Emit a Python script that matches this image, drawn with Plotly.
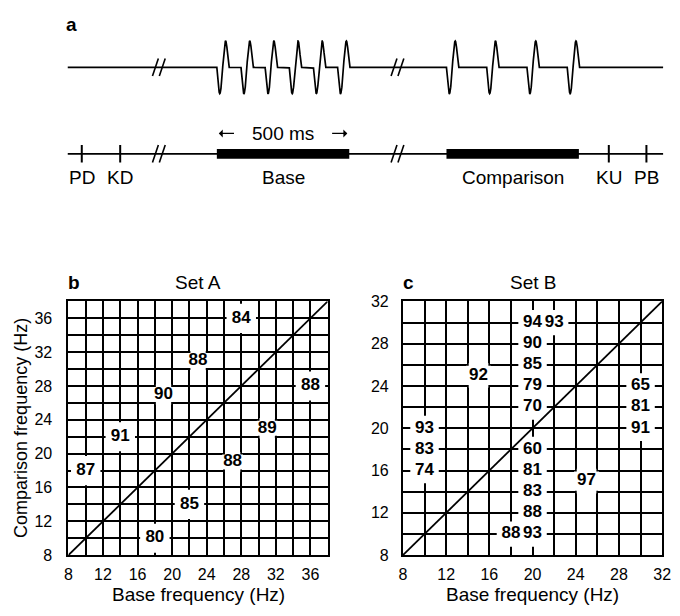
import numpy as np
import plotly.graph_objects as go

W, H = 680, 616
FONT = "Liberation Sans, Arial, Helvetica, sans-serif"

# ---------------- panel a: trial sequence (schematic time, ms from base onset) ----------------
stim_dur_ms = 500
base_onset_ms = 0
comp_onset_ms = 867
pulses_base = 6
pulses_comp = 4
pulse_width_ms = 44
line_start_ms, line_end_ms = -563, 1685
event_names = ["PD", "KD", "KU", "PB"]
event_ms = [-510, -365, 1480, 1622]
break_ms = [-219, 682]
stim_names = ["Base", "Comparison"]

# ---------------- panels b, c: stimulus pairs and percent correct ----------------
set_a_base = [28, 23, 19, 36, 14, 10, 31, 27, 22, 18]
set_a_comp = [36, 31, 27, 28, 22, 18, 23, 19, 14, 10]
set_a_pct = [84, 88, 90, 88, 91, 87, 89, 88, 85, 80]

set_b_base = [20, 22, 20, 20, 20, 20, 20, 20, 20, 20, 20, 18, 10, 10, 10, 30, 30, 30, 15, 25]
set_b_comp = [30, 30, 28, 26, 24, 22, 18, 16, 14, 12, 10, 10, 20, 18, 16, 24, 22, 20, 25, 15]
set_b_pct = [94, 93, 90, 85, 79, 70, 60, 81, 83, 88, 93, 88, 93, 83, 74, 65, 81, 91, 92, 97]

set_a_range = [8, 38]
set_b_range = [8, 32]
tick_step, grid_step = 4, 2

# ---------------- page geometry (pixels) ----------------
PB = dict(x0=65.7, x1=330.0, y0=301.7, y1=562.7)
PC = dict(x0=406.7, x1=671.0, y0=301.7, y1=562.7)
A_H = 210            # height of the schematic strip
MS_PX = 0.27         # px per ms in the schematic
A_X0 = 217           # px of base onset
WAVE_Y, WAVE_AMP = 61, 27
LINE_Y, BAR_HALF, TICK_HALF = 150, 5, 9
LABEL_Y, DUR_Y = 174, 129


def xdom(p):
    return [p["x0"] / W, p["x1"] / W]


def ydom(p):
    return [1 - p["y1"] / H, 1 - p["y0"] / H]


fig = go.Figure()

# ---------- panel a ----------
t = np.arange(line_start_ms, line_end_ms + 0.25, 0.25)
wave = np.zeros_like(t)
for onset, n in [(base_onset_ms, pulses_base), (comp_onset_ms, pulses_comp)]:
    period = (stim_dur_ms - pulse_width_ms) / (n - 1)
    for k in range(n):
        s = onset + k * period
        m = (t >= s) & (t <= s + pulse_width_ms)
        wave[m] = np.sin(2 * np.pi * (t[m] - s) / pulse_width_ms)
fig.add_trace(go.Scatter(x=t, y=WAVE_Y + WAVE_AMP * wave, mode="lines",
                         line=dict(color="black", width=1.7),
                         xaxis="x3", yaxis="y3", hoverinfo="skip"))
fig.add_trace(go.Scatter(x=[line_start_ms, line_end_ms], y=[LINE_Y, LINE_Y], mode="lines",
                         line=dict(color="black", width=1.7),
                         xaxis="x3", yaxis="y3", hoverinfo="skip"))

shapes = []
ms = 1 / MS_PX
for b in break_ms:
    for yline in (WAVE_Y, LINE_Y):
        for off in (-3.5, 3.5):
            shapes.append(dict(type="line", xref="x3", yref="y3",
                               x0=b + (off - 3) * ms, x1=b + (off + 3) * ms,
                               y0=yline + 9, y1=yline - 9,
                               line=dict(color="black", width=1.6)))
for e in event_ms:
    shapes.append(dict(type="line", xref="x3", yref="y3", x0=e, x1=e,
                       y0=LINE_Y - TICK_HALF, y1=LINE_Y + TICK_HALF,
                       line=dict(color="black", width=2)))
for onset in (base_onset_ms, comp_onset_ms):
    shapes.append(dict(type="rect", xref="x3", yref="y3", x0=onset, x1=onset + stim_dur_ms,
                       y0=LINE_Y - BAR_HALF, y1=LINE_Y + BAR_HALF,
                       fillcolor="black", line=dict(width=0)))

annotations = []
txt_font = dict(size=19, family=FONT, color="black")
for name, e in zip(event_names, event_ms):
    annotations.append(dict(xref="x3", yref="y3", x=e, y=LABEL_Y, text=name,
                            showarrow=False, font=txt_font))
for name, onset in zip(stim_names, (base_onset_ms, comp_onset_ms)):
    annotations.append(dict(xref="x3", yref="y3", x=onset + stim_dur_ms / 2, y=LABEL_Y, text=name,
                            showarrow=False, font=txt_font))
annotations.append(dict(xref="x3", yref="y3", x=base_onset_ms + stim_dur_ms / 2, y=DUR_Y,
                        text=f"{stim_dur_ms} ms", showarrow=False, font=txt_font))
# duration arrows pointing at the two ends of the base stimulus
for tip, tail in [(base_onset_ms + 2 * ms, base_onset_ms + 19 * ms),
                  (base_onset_ms + stim_dur_ms - 2 * ms, base_onset_ms + stim_dur_ms - 19 * ms)]:
    annotations.append(dict(xref="x3", yref="y3", x=tip, y=DUR_Y, axref="x3", ayref="y3",
                            ax=tail, ay=DUR_Y, text="", showarrow=True, arrowhead=1,
                            arrowsize=1.1, arrowwidth=1.2, arrowcolor="black"))


# ---------- panels b and c ----------
def grid_panel(base, comp, pct, rng, p, xref, yref, hw, hh):
    sx = (rng[1] - rng[0]) / (p["x1"] - p["x0"])
    sy = (rng[1] - rng[0]) / (p["y1"] - p["y0"])
    for x, y in zip(base, comp):
        if x % 2 == 1:
            # label sits inside a cell: open that cell's four edges, keep its corners
            ex, ey, dx, dy = 1.0 * sx, 1.0 * sy, 1.8 * sx, 1.8 * sy
            shapes.append(dict(type="rect", xref=xref, yref=yref, layer="between",
                               x0=x - 1 - dx, x1=x + 1 + dx, y0=y - 1 + ey, y1=y + 1 - ey,
                               fillcolor="white", line=dict(width=0)))
            shapes.append(dict(type="rect", xref=xref, yref=yref, layer="between",
                               x0=x - 1 + ex, x1=x + 1 - ex, y0=y - 1 - dy, y1=y + 1 + dy,
                               fillcolor="white", line=dict(width=0)))
        else:
            shapes.append(dict(type="rect", xref=xref, yref=yref, layer="between",
                               x0=x - hw * sx, x1=x + hw * sx, y0=y - hh * sy, y1=y + hh * sy,
                               fillcolor="white", line=dict(width=0)))
    fig.add_trace(go.Scatter(x=rng, y=rng, mode="lines", line=dict(color="black", width=1.8),
                             xaxis=xref, yaxis=yref, hoverinfo="skip"))
    fig.add_trace(go.Scatter(x=base, y=comp, mode="text", text=[str(v) for v in pct],
                             textposition="middle center",
                             textfont=dict(size=17, family=FONT, color="black", weight="bold"),
                             xaxis=xref, yaxis=yref, hoverinfo="skip"))


grid_panel(set_a_base, set_a_comp, set_a_pct, set_a_range, PB, "x", "y", 15, 15)
grid_panel(set_b_base, set_b_comp, set_b_pct, set_b_range, PC, "x2", "y2", 14.5, 13)


def grid_axis(rng, dom, standoff, anchor):
    return dict(domain=dom, range=rng, tick0=rng[0], dtick=tick_step, anchor=anchor,
                showgrid=True, gridcolor="black", gridwidth=1.6,
                minor=dict(dtick=grid_step, tick0=rng[0], showgrid=True,
                           gridcolor="black", gridwidth=1.6),
                showline=True, mirror=True, linecolor="black", linewidth=2,
                ticks="", zeroline=False, ticklabelstandoff=standoff,
                tickfont=dict(size=16, family=FONT, color="black"), fixedrange=True)


def paper_text(x, y, text, size=19, bold=False, angle=0):
    annotations.append(dict(xref="paper", yref="paper", x=x / W, y=1 - y / H,
                            text=f"<b>{text}</b>" if bold else text, textangle=angle,
                            showarrow=False, xanchor="center", yanchor="middle",
                            font=dict(size=size, family=FONT, color="black")))


paper_text(69, 17, "a", bold=True)
paper_text(71, 282, "b", bold=True)
paper_text(412, 282, "c", bold=True)
paper_text((PB["x0"] + PB["x1"]) / 2, 282, "Set A")
paper_text((PC["x0"] + PC["x1"]) / 2, 282, "Set B")
paper_text((PB["x0"] + PB["x1"]) / 2, 603, "Base frequency (Hz)")
paper_text((PC["x0"] + PC["x1"]) / 2, 603, "Base frequency (Hz)")
paper_text(18, (PB["y0"] + PB["y1"]) / 2, "Comparison frequency (Hz)", size=18, angle=-90)

fig.update_layout(
    width=W, height=H, margin=dict(l=0, r=0, t=0, b=0),
    paper_bgcolor="white", plot_bgcolor="white", showlegend=False,
    xaxis=grid_axis(set_a_range, xdom(PB), 4, "y"),
    yaxis=grid_axis(set_a_range, ydom(PB), 11, "x"),
    xaxis2=grid_axis(set_b_range, xdom(PC), 4, "y2"),
    yaxis2=grid_axis(set_b_range, ydom(PC), 9, "x2"),
    xaxis3=dict(domain=[0, 1], range=[-A_X0 / MS_PX, (W - A_X0) / MS_PX], visible=False,
                fixedrange=True, anchor="y3"),
    yaxis3=dict(domain=[1 - A_H / H, 1], range=[A_H, 0], visible=False, fixedrange=True,
                anchor="x3"),
    shapes=shapes, annotations=annotations,
)

fig.write_html("out.html")
